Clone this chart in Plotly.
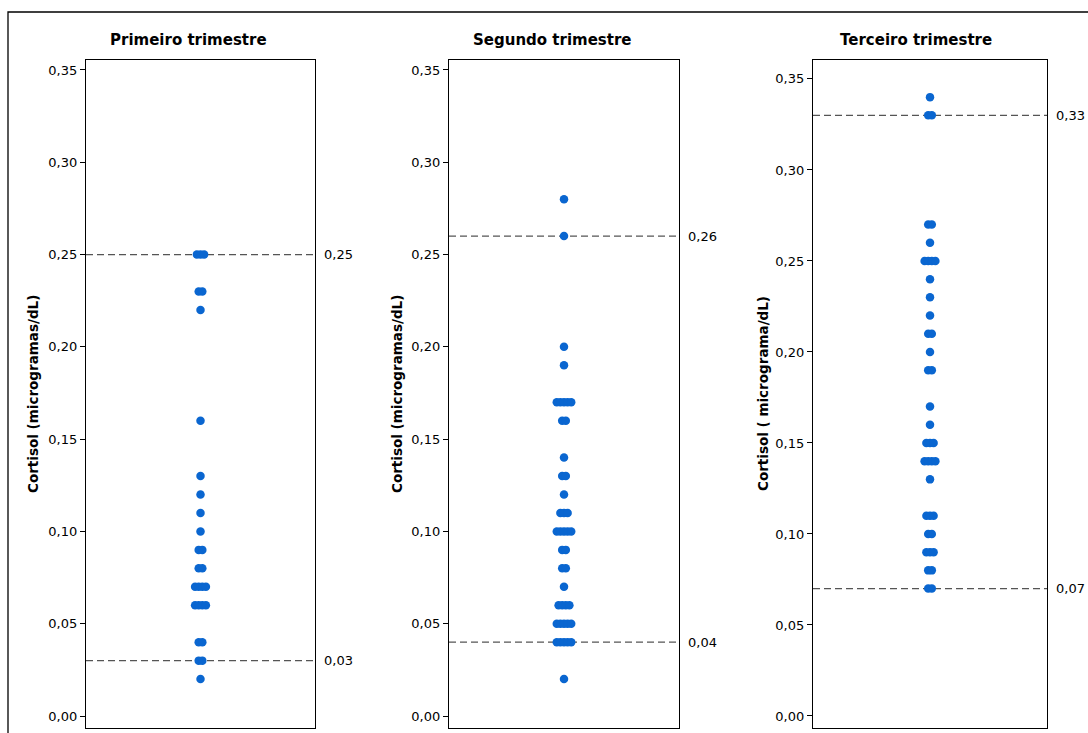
import plotly.graph_objects as go

# ---------------- data ----------------
panel_titles = ["Primeiro trimestre", "Segundo trimestre", "Terceiro trimestre"]
y_titles = ["Cortisol (microgramas/dL)", "Cortisol (microgramas/dL)", "Cortisol ( micrograma/dL)"]

prim_values = [0.25, 0.23, 0.22, 0.16, 0.13, 0.12, 0.11, 0.10, 0.09, 0.08, 0.07, 0.06, 0.04, 0.03, 0.02]
prim_counts = [3, 2, 1, 1, 1, 1, 1, 1, 2, 2, 4, 4, 2, 2, 1]

seg_values = [0.28, 0.26, 0.20, 0.19, 0.17, 0.16, 0.14, 0.13, 0.12, 0.11, 0.10, 0.09, 0.08, 0.07, 0.06, 0.05, 0.04, 0.02]
seg_counts = [1, 1, 1, 1, 5, 2, 1, 2, 1, 3, 5, 2, 2, 1, 4, 5, 5, 1]

ter_values = [0.34, 0.33, 0.27, 0.26, 0.25, 0.24, 0.23, 0.22, 0.21, 0.20, 0.19, 0.17, 0.16, 0.15, 0.14, 0.13, 0.11, 0.10, 0.09, 0.08, 0.07]
ter_counts = [1, 2, 2, 1, 4, 1, 1, 1, 2, 1, 2, 1, 1, 3, 4, 1, 3, 2, 3, 2, 2]

ref_upper = [0.25, 0.26, 0.33]
ref_lower = [0.03, 0.04, 0.07]
ref_labels_upper = ["0,25", "0,26", "0,33"]
ref_labels_lower = ["0,03", "0,04", "0,07"]

tick_vals = [0.00, 0.05, 0.10, 0.15, 0.20, 0.25, 0.30, 0.35]
tick_text = ["0,00", "0,05", "0,10", "0,15", "0,20", "0,25", "0,30", "0,35"]

# ---------------- layout geometry (pixels) ----------------
W, H = 1088, 733
panel_x = [(86, 315), (449, 679), (813, 1047)]
panel_top, panel_bottom = 60, 728
y_ranges = [(-0.0065, 0.3554), (-0.0065, 0.3554), (-0.0066, 0.3604)]
title_x = [188, 552, 916]
ylab_x = [33, 397, 763]

FONT = "DejaVu Sans"
DOT = "#0a66d0"

def px_x(p):
    return p / W

def px_y(p):
    return 1 - p / H

fig = go.Figure()

datasets = [(prim_values, prim_counts), (seg_values, seg_counts), (ter_values, ter_counts)]
spacing_px = 3.6

for i, (vals, cnts) in enumerate(datasets):
    x0, x1 = panel_x[i]
    unit_per_px = 2.0 / (x1 - x0)
    xs, ys = [], []
    for v, n in zip(vals, cnts):
        for k in range(n):
            xs.append((k - (n - 1) / 2) * spacing_px * unit_per_px)
            ys.append(v)
    ax = "" if i == 0 else str(i + 1)
    fig.add_trace(go.Scatter(
        x=xs, y=ys, mode="markers",
        marker=dict(color=DOT, size=8.5, line=dict(width=0)),
        xaxis="x" + ax, yaxis="y" + ax, showlegend=False, hoverinfo="y"))

    xa = dict(domain=[px_x(x0), px_x(x1)], range=[-1, 1], showticklabels=False,
              ticks="", showgrid=False, zeroline=False, showline=True, mirror=True,
              linecolor="black", linewidth=1.2, anchor="y" + ax)
    ya = dict(domain=[px_y(panel_bottom), px_y(panel_top)], range=list(y_ranges[i]),
              tickvals=tick_vals, ticktext=tick_text, ticks="outside", ticklen=5,
              tickcolor="black", tickfont=dict(family=FONT, size=13, color="black"),
              showgrid=False, zeroline=False, showline=True, mirror=True,
              linecolor="black", linewidth=1.2, anchor="x" + ax)
    fig.update_layout(**{"xaxis" + ax: xa, "yaxis" + ax: ya})

    for val, lab in ((ref_upper[i], ref_labels_upper[i]), (ref_lower[i], ref_labels_lower[i])):
        fig.add_shape(type="line", xref="x" + ax + " domain", yref="y" + ax,
                      x0=0, x1=1, y0=val, y1=val,
                      line=dict(color="#555555", width=1.3, dash="7px,4px"), layer="below")
        fig.add_annotation(xref="x" + ax + " domain", yref="y" + ax, x=1, y=val,
                           text=lab, showarrow=False, xanchor="left", xshift=7,
                           font=dict(family=FONT, size=13, color="black"))

    fig.add_annotation(xref="paper", yref="paper", x=px_x(title_x[i]), y=px_y(40),
                       text="<b>" + panel_titles[i] + "</b>", showarrow=False,
                       xanchor="center", yanchor="middle",
                       font=dict(family=FONT, size=15, color="black"))
    fig.add_annotation(xref="paper", yref="paper", x=px_x(ylab_x[i]), y=px_y(394),
                       text="<b>" + y_titles[i] + "</b>", showarrow=False, textangle=-90,
                       xanchor="center", yanchor="middle",
                       font=dict(family=FONT, size=13.5, color="black"))

# outer frame
fig.add_shape(type="rect", xref="paper", yref="paper",
              x0=px_x(8), x1=1.02, y0=-0.05, y1=px_y(12),
              line=dict(color="black", width=1.3))

fig.update_layout(width=W, height=H, margin=dict(l=0, r=0, t=0, b=0),
                  paper_bgcolor="white", plot_bgcolor="white",
                  font=dict(family=FONT, color="black"))

fig.write_html("out.html")
